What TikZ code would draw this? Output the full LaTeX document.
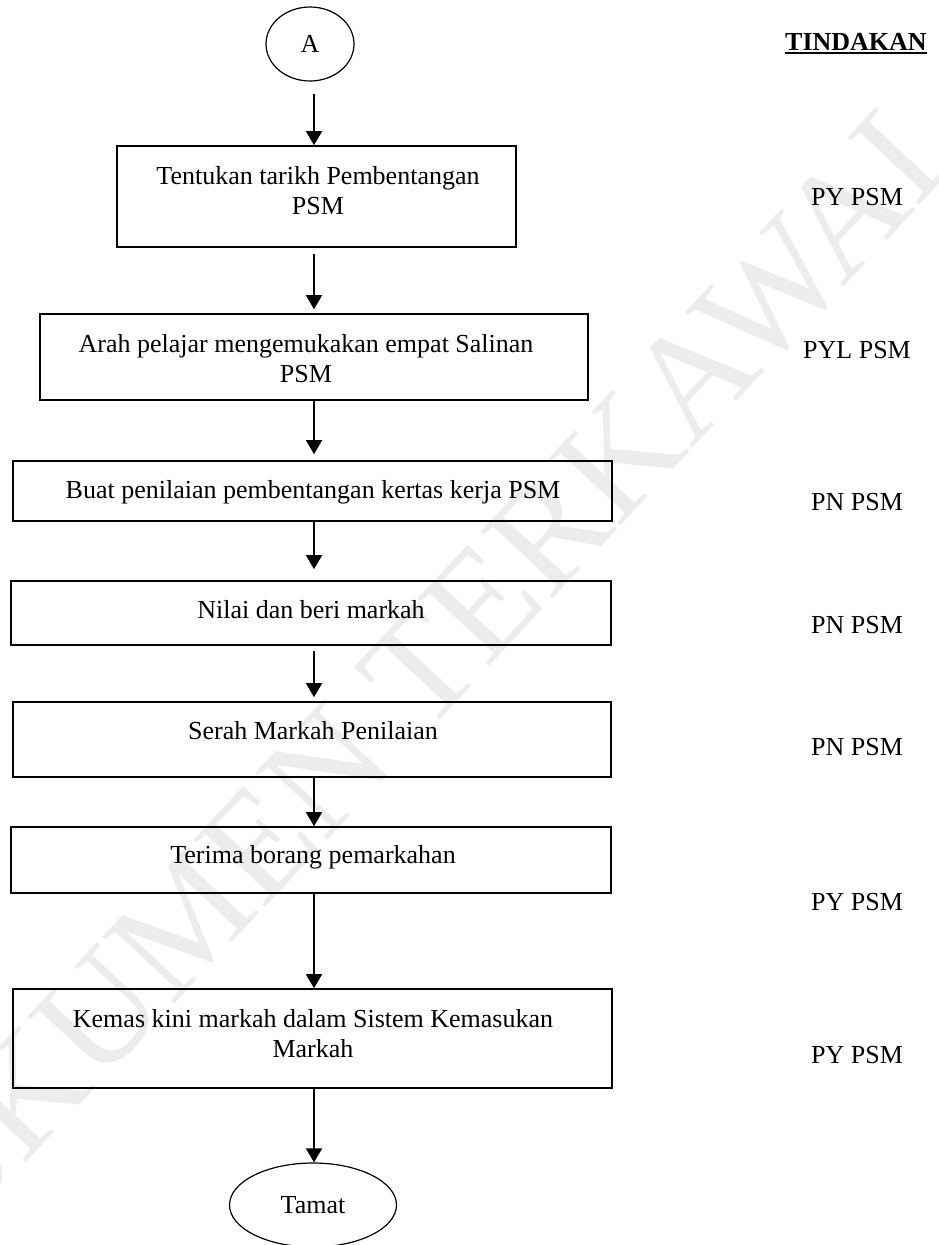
\documentclass[tikz,border=0pt]{standalone}
\usepackage{fontspec}
\setmainfont{Liberation Serif}
\usetikzlibrary{shapes.geometric,arrows.meta}
\begin{document}
\begin{tikzpicture}[x=1pt,y=-1pt,
  every node/.style={font=\fontsize{26}{30}\selectfont},
  stepbox/.style={draw, line width=1.6pt, inner sep=0pt},
  term/.style={draw, ellipse, line width=1.2pt, inner sep=0pt},
  txt/.style={align=center, inner sep=0pt},
  who/.style={inner sep=0pt},
  arr/.style={line width=1.5pt, -{Triangle[length=14pt,width=16pt]}}]
\useasboundingbox (0,0) rectangle (939,1245);
% watermark
\node[rotate=47, text=gray!15, inner sep=0pt, font=\fontsize{150}{150}\selectfont] (wm) at (392,700) {DOKUMEN TERKAWAL};
\coordinate (col) at (314,0);
% terminals
\node[term, minimum width=88pt, minimum height=74pt] (A) at (310,44) {A};
\node[term, minimum width=167pt, minimum height=84pt] (T) at (313,1205) {Tamat};
% boxes
\node[stepbox, minimum width=399pt, minimum height=101pt] (B1) at (316.5,196.5) {};
\node[stepbox, minimum width=548pt, minimum height=86pt] (B2) at (314,357) {};
\node[stepbox, minimum width=599pt, minimum height=60pt] (B3) at (312.5,491) {};
\node[stepbox, minimum width=600pt, minimum height=64pt] (B4) at (311,613) {};
\node[stepbox, minimum width=598pt, minimum height=75pt] (B5) at (312,739.5) {};
\node[stepbox, minimum width=600pt, minimum height=66pt] (B6) at (311,860) {};
\node[stepbox, minimum width=599pt, minimum height=99pt] (B7) at (312.5,1038.5) {};
% box texts
\node[txt] (t1) at (318,191) {Tentukan tarikh Pembentangan\\PSM};
\node[txt] (t2) at (306,359) {Arah pelajar mengemukakan empat Salinan\\PSM};
\node[txt] (t3) at (313,492) {Buat penilaian pembentangan kertas kerja PSM};
\node[txt] (t4) at (311,610) {Nilai dan beri markah};
\node[txt] (t5) at (313,731) {Serah Markah Penilaian};
\node[txt] (t6) at (313,857) {Terima borang pemarkahan};
\node[txt] (t7) at (313,1034) {Kemas kini markah dalam Sistem Kemasukan\\Markah};
% action column
\node[who, anchor=base, font=\fontsize{26}{30}\selectfont\bfseries] (hd) at (856,50) {TINDAKAN};
\draw[line width=1.8pt] ([yshift=-3pt]hd.base west) -- ([yshift=-3pt]hd.base east);
\node[who] (r1) at (857,197) {PY PSM};
\node[who] (r2) at (857,350) {PYL PSM};
\node[who] (r3) at (857,502) {PN PSM};
\node[who] (r4) at (857,625) {PN PSM};
\node[who] (r5) at (857,747) {PN PSM};
\node[who] (r6) at (857,902) {PY PSM};
\node[who] (r7) at (857,1055) {PY PSM};
% connectors
\draw[arr, shorten <=12pt] (A.south -| col) -- (B1.north -| col);
\draw[arr, shorten <=6pt, shorten >=4pt] (B1.south -| col) -- (B2.north -| col);
\draw[arr, shorten >=6pt] (B2.south -| col) -- (B3.north -| col);
\draw[arr, shorten >=11pt] (B3.south -| col) -- (B4.north -| col);
\draw[arr, shorten <=5pt, shorten >=4pt] (B4.south -| col) -- (B5.north -| col);
\draw[arr] (B5.south -| col) -- (B6.north -| col);
\draw[arr] (B6.south -| col) -- (B7.north -| col);
\draw[arr] (B7.south -| col) -- (T.north -| col);
\end{tikzpicture}
\end{document}
